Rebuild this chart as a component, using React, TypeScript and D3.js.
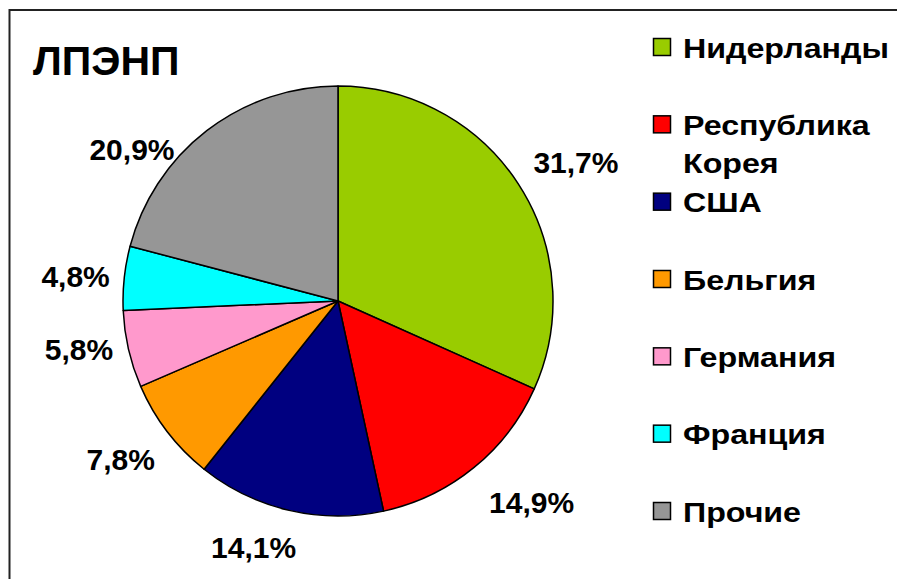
import React from 'react';
import * as d3 from 'd3';

// share of LLDPE imports by country, %
const countries = ['Нидерланды', 'Республика Корея', 'США', 'Бельгия', 'Германия', 'Франция', 'Прочие'];
const legendLines = [['Нидерланды'], ['Республика', 'Корея'], ['США'], ['Бельгия'], ['Германия'], ['Франция'], ['Прочие']];
const shares = [31.7, 14.9, 14.1, 7.8, 5.8, 4.8, 20.9];
const colors = ['#99CC00', '#FF0000', '#000080', '#FF9900', '#FF99CC', '#00FFFF', '#969696'];

// manual label tweaks, like in the original spreadsheet
const labelNudge: [number, number][] = [[0, -1], [15, 5], [-20, 0], [1, 4], [9, -9], [11, 2], [-33, 48]];

const W = 897;
const H = 579;
const cx = 338;
const cy = 301;
const R = 215;
const font = '"Liberation Sans", Arial, sans-serif';

type Slice = d3.PieArcDatum<number>;

export default function App() {
  const pie = d3.pie<number>().sort(null).value((d) => d);
  const arcs = pie(shares);
  const arc = d3.arc<Slice>().innerRadius(0).outerRadius(R);

  const legendY = d3.scalePoint<string>().domain(countries).range([47.5, 511.5]);

  const fmt = (v: number) => v.toFixed(1).replace('.', ',') + '%';

  return (
    <svg width={W} height={H} style={{ position: 'absolute', left: 0, top: 0, background: '#fff' }}>
      <rect x={9.5} y={10} width={W + 20} height={H + 20} fill="#fff" stroke="#222" strokeWidth={2} />

      <text x={33} y={75} fontFamily={font} fontWeight="bold" fontSize={41} fill="#000">ЛПЭНП</text>

      <g transform={`translate(${cx},${cy})`}>
        {arcs.map((a, i) => (
          <path key={i} d={arc(a) as string} fill={colors[i]} stroke="#000" strokeWidth={1.5} strokeLinejoin="round" />
        ))}
        {arcs.map((a, i) => {
          const mid = (a.startAngle + a.endAngle) / 2;
          const s = Math.sin(mid);
          const c = Math.cos(mid);
          const label = fmt(a.data);
          const hw = label.length * 8.5;
          const x = (R + 26) * s + s * hw + labelNudge[i][0];
          const y = -(R + 26) * c - c * 12 + labelNudge[i][1];
          return (
            <text key={i} x={x} y={y + 11} textAnchor="middle" fontFamily={font} fontWeight="bold" fontSize={30} fill="#000">
              {label}
            </text>
          );
        })}
      </g>

      <g>
        {countries.map((name, i) => {
          const y = legendY(name) as number;
          return (
            <g key={name}>
              <rect x={653.5} y={y - 9} width={17} height={17} fill={colors[i]} stroke="#000" strokeWidth={1.5} />
              <g transform={`translate(683,${y + 10}) scale(1.15,1)`}>
                <text x={0} y={0} fontFamily={font} fontWeight="bold" fontSize={28} fill="#000">
                  {legendLines[i].map((ln, j) => (
                    <tspan key={j} x={0} dy={j === 0 ? 0 : 38}>{ln}</tspan>
                  ))}
                </text>
              </g>
            </g>
          );
        })}
      </g>
    </svg>
  );
}
